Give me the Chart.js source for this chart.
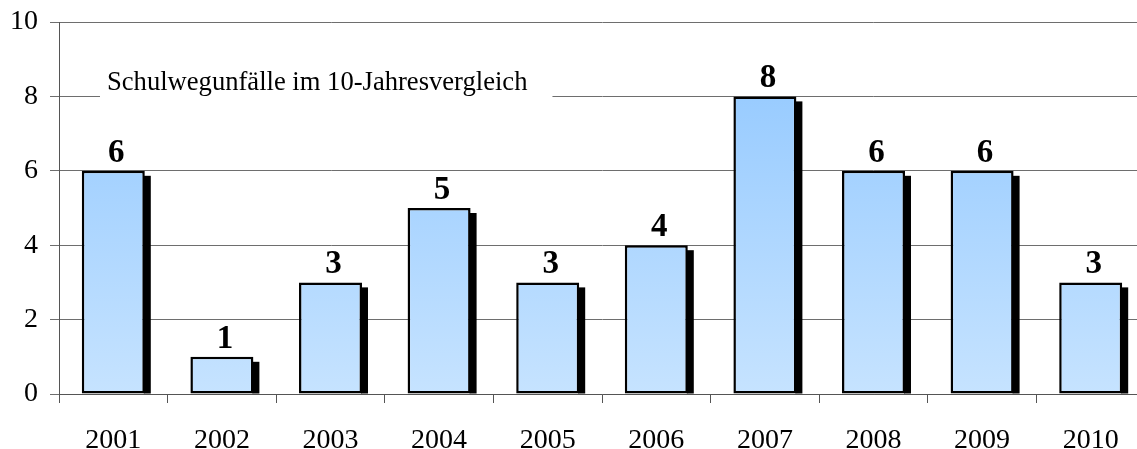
<!DOCTYPE html>
<html lang="de">
<head>
    <meta charset="UTF-8">
    <title>Schulwegunfälle im 10-Jahresvergleich</title>
    <script src="https://cdn.jsdelivr.net/npm/chart.js"></script>
    <style>
        html, body { margin: 0; padding: 0; background: #fff; overflow: hidden; }
        #wrap { position: relative; width: 1145px; height: 449px; }
    </style>
</head>
<body>
    <div id="wrap"><canvas id="chart"></canvas></div>

    <script>
        // data
        const years = ['2001', '2002', '2003', '2004', '2005', '2006', '2007', '2008', '2009', '2010'];
        const accidents = [6, 1, 3, 5, 3, 4, 8, 6, 6, 3];
        const yTicks = [0, 2, 4, 6, 8, 10];
        const titleText = 'Schulwegunfälle im 10-Jahresvergleich';

        const serif = "'Liberation Serif', 'Times New Roman', serif";

        // black drop shadow behind each bar
        const shadowPlugin = {
            id: 'barShadow',
            beforeDatasetsDraw(chart) {
                const ctx = chart.ctx;
                ctx.save();
                ctx.fillStyle = '#000';
                chart.getDatasetMeta(0).data.forEach(bar => {
                    const right = bar.x + bar.width / 2;
                    ctx.fillRect(right - 1, bar.y + 5, 7, bar.base - bar.y - 5);
                });
                ctx.restore();
            }
        };

        // title box sitting on the 8 gridline
        const titlePlugin = {
            id: 'titleBox',
            beforeDatasetsDraw(chart) {
                const ctx = chart.ctx;
                ctx.save();
                ctx.font = '26.6px ' + serif;
                const w = ctx.measureText(titleText).width;
                ctx.fillStyle = '#fff';
                ctx.fillRect(100, 58, w + 32, 46);
                ctx.fillStyle = '#000';
                ctx.textBaseline = 'alphabetic';
                ctx.fillText(titleText, 107, 90);
                ctx.restore();
            }
        };

        // bold values above bars
        const valuePlugin = {
            id: 'values',
            afterDatasetsDraw(chart) {
                const ctx = chart.ctx;
                ctx.save();
                ctx.font = 'bold 33px ' + serif;
                ctx.fillStyle = '#000';
                ctx.textAlign = 'center';
                ctx.textBaseline = 'alphabetic';
                chart.getDatasetMeta(0).data.forEach((bar, i) => {
                    ctx.fillText(String(accidents[i]), bar.x + 3, bar.y - 9);
                });
                ctx.restore();
            }
        };

        new Chart(document.getElementById('chart'), {
            type: 'bar',
            data: {
                labels: years,
                datasets: [{
                    data: accidents,
                    backgroundColor(c) {
                        const area = c.chart.chartArea;
                        if (!area) return '#a8d4ff';
                        const g = c.chart.ctx.createLinearGradient(0, area.top, 0, area.bottom);
                        g.addColorStop(0, '#8ec6ff');
                        g.addColorStop(1, '#c6e3ff');
                        return g;
                    },
                    borderColor: '#000',
                    borderWidth: 2.5,
                    borderSkipped: false,
                    barPercentage: 0.58,
                    categoryPercentage: 1
                }]
            },
            options: {
                responsive: true,
                maintainAspectRatio: false,
                animation: false,
                layout: { padding: { top: 22, left: 0, right: 0, bottom: 0 } },
                plugins: {
                    legend: { display: false },
                    tooltip: { enabled: false }
                },
                scales: {
                    x: {
                        grid: { drawOnChartArea: false, color: '#555', tickLength: 9, offset: true },
                        border: { color: '#555', width: 1 },
                        ticks: { color: '#000', font: { family: serif, size: 28 }, padding: 21 },
                        afterFit(s) { s.height = 55; }
                    },
                    y: {
                        min: 0,
                        max: 10,
                        afterBuildTicks(s) { s.ticks = yTicks.map(v => ({ value: v })); },
                        grid: { color: '#6e6e6e', lineWidth: 1, tickLength: 9 },
                        border: { color: '#555', width: 1 },
                        ticks: { color: '#000', font: { family: serif, size: 28 }, padding: 12 },
                        afterFit(s) {
                            s.width = 59;
                            s.paddingTop = 0;
                            s.paddingBottom = 0;
                        }
                    }
                }
            },
            plugins: [shadowPlugin, titlePlugin, valuePlugin]
        });
    </script>
</body>
</html>
